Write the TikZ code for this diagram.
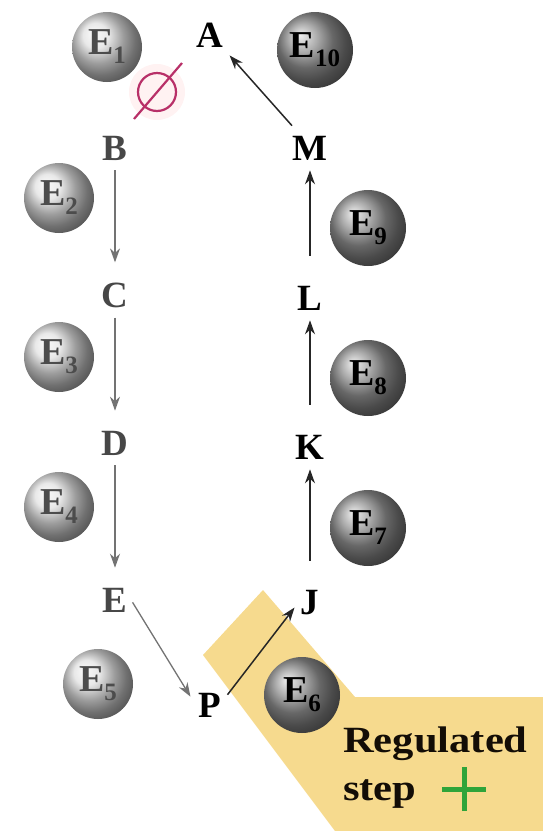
\documentclass[tikz,border=0pt]{standalone}
\usepackage{fontspec}
\setmainfont{Liberation Serif}
\usetikzlibrary{arrows.meta,shadings}
\definecolor{bandyellow}{HTML}{F6DA8E}
\definecolor{nullred}{HTML}{B83068}
\definecolor{plusgreen}{HTML}{2FA43A}
\tikzset{
  lbl/.style={font=\fontsize{37}{40}\selectfont\bfseries, inner sep=0pt},
  lbll/.style={lbl, text=black!72},
  lsph/.style={circle, minimum size=70pt, inner sep=0pt, ball color=black!12, text=black!70, font=\fontsize{38}{40}\selectfont\bfseries},
  dsph/.style={circle, minimum size=76pt, inner sep=0pt, ball color=black!42, text=black, font=\fontsize{38}{40}\selectfont\bfseries},
  larr/.style={draw=black!55, line width=1.3pt, -{Stealth[length=14pt,width=10pt]}},
  darr/.style={draw=black!85, line width=1.5pt, -{Stealth[length=14pt,width=10pt]}},
}
\newcommand{\Esub}[1]{E\raisebox{-9pt}{\fontsize{25}{25}\selectfont #1}}
\begin{document}
\begin{tikzpicture}[x=1pt,y=-1pt]
\useasboundingbox (0,0) rectangle (543,831);
% regulated band
\fill[bandyellow] (203,655) -- (263,590) -- (355,697) -- (543,697) -- (543,831) -- (335,831) -- cycle;
% null symbol
\fill[pink!35, opacity=0.6] (157,92) circle (28);
\draw[nullred, line width=2.2pt] (157,92) circle (19);
\draw[nullred, line width=2.2pt] (134,119) -- (182,63);
% letters
\node[lbl] (A) at (210,35) {A};
\node[lbll] (B) at (115,148) {B};
\node[lbll] (C) at (115,295) {C};
\node[lbll] (D) at (115,443) {D};
\node[lbll] (E) at (115,600) {E};
\node[lbl] (P) at (210,705) {P};
\node[lbl] (J) at (310,603) {J};
\node[lbl] (K) at (310,447) {K};
\node[lbl] (L) at (310,298) {L};
\node[lbl] (M) at (310,148) {M};
% spheres
\node[lsph] (E1) at (107,47) {\Esub{1}};
\node[lsph] (E2) at (59,198) {\Esub{2}};
\node[lsph] (E3) at (59,357) {\Esub{3}};
\node[lsph] (E4) at (59,507) {\Esub{4}};
\node[lsph] (E5) at (98,684) {\Esub{5}};
\node[dsph] (E6) at (302,695) {\Esub{6}};
\node[dsph] (E7) at (368,528) {\Esub{7}};
\node[dsph] (E8) at (368,378) {\Esub{8}};
\node[dsph] (E9) at (368,228) {\Esub{9}};
\node[dsph] (E10) at (315,50) {\Esub{10}};
% arrows
\draw[larr] ([yshift=-10pt]B.south) -- ([yshift=20pt]C.north);
\draw[larr] ([yshift=-10pt]C.south) -- ([yshift=20pt]D.north);
\draw[larr] ([yshift=-10pt]D.south) -- ([yshift=20pt]E.north);
\draw[larr] ([shift={(5,-10)}]E.south east) -- ([shift={(-8,4)}]P.north west);
\draw[darr] ([shift={(6,2)}]P.north east) -- ([shift={(-6,-8)}]J.south west);
\draw[darr] ([yshift=30pt]J.north) -- ([yshift=-10pt]K.south);
\draw[darr] ([yshift=30pt]K.north) -- ([yshift=-10pt]L.south);
\draw[darr] ([yshift=30pt]L.north) -- ([yshift=-10pt]M.south);
\draw[darr] ([shift={(-18,-10)}]M.north) -- ([shift={(6,8)}]A.south east);
% regulated text
\node[lbl, anchor=base west, text=black!90!brown] (reg) at (343,752) {\scalebox{1.15}[1]{Regulated}};
\node[lbl, anchor=base west, text=black!90!brown] (stp) at (343,800) {\scalebox{1.15}[1]{step}};
\coordinate (plus) at (464,789);
\draw[plusgreen, line width=5pt] ([xshift=-22pt]plus) -- ([xshift=22pt]plus);
\draw[plusgreen, line width=5pt] ([yshift=-22pt]plus) -- ([yshift=22pt]plus);
\end{tikzpicture}
\end{document}
